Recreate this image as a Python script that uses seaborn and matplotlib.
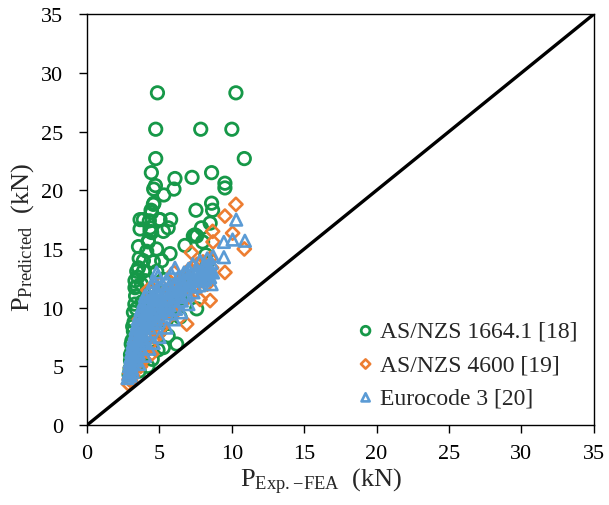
import pandas as pd
import seaborn as sns
import matplotlib
matplotlib.use("Agg")
import matplotlib.pyplot as plt

# AS/NZS 1664.1 [18]
green_x = [4.86, 10.28, 4.74, 7.85, 10.0, 4.74, 10.86, 4.44, 6.07, 7.25, 8.6, 9.52, 9.52, 4.72,
           4.6, 6.0, 5.3, 4.62, 4.42, 7.52, 8.6, 8.67, 3.66, 4.3, 4.99, 5.77, 4.35, 5.6, 7.9, 8.5,
           4.46, 7.45, 7.34, 7.98, 6.76, 4.23, 4.58, 4.46, 3.89, 5.04, 3.66, 4.35, 5.27, 4.23, 4.12,
           3.89, 4.58, 3.43, 3.89, 4.81, 5.15, 3.31, 4.0, 3.31, 2.97, 3.0, 3.1, 3.1, 3.2, 3.25, 3.2,
           3.3, 3.35, 3.45, 3.5, 3.55, 3.6, 3.75, 3.8, 3.9, 6.19, 5.27, 6.42, 7.57, 6.19, 5.27, 5.73,
           4.8, 7.57, 5.0, 5.6, 5.8, 7.0, 6.6, 4.9, 4.5, 4.2, 3.6, 2.9, 3.0, 3.4, 3.7, 4.1, 4.4, 3.55,
           3.05, 3.15, 4.7, 5.5, 6.4, 8.2, 8.3]
green_y = [28.3, 28.3, 25.2, 25.2, 25.2, 22.7, 22.7, 21.5, 21.0, 21.1, 21.5, 20.6, 20.2, 20.4,
           20.1, 20.1, 19.6, 18.9, 18.3, 18.3, 18.9, 18.3, 17.5, 17.4, 17.5, 17.5, 16.8, 16.8, 16.8,
           17.2, 16.4, 16.2, 16.1, 15.6, 15.3, 15.6, 18.8, 18.1, 17.5, 17.5, 16.7, 16.5, 16.5, 15.7,
           14.8, 14.0, 13.9, 13.1, 13.1, 13.1, 14.0, 12.3, 12.3, 11.7, 4.8, 5.5, 6.3, 7.2, 8.0, 8.8,
           9.6, 10.3, 11.0, 11.8, 12.6, 13.4, 14.2, 12.0, 10.5, 9.2, 6.9, 6.6, 9.2, 9.9, 11.0, 12.4,
           14.6, 15.0, 16.1, 8.0, 7.6, 10.0, 12.5, 11.8, 6.4, 5.6, 5.0, 4.6, 4.3, 6.0, 9.9, 8.6, 7.4,
           10.8, 15.2, 6.9, 8.4, 11.4, 9.0, 10.8, 14.5, 13.8]

# AS/NZS 4600 [19]
orange_x = [2.85, 2.9, 2.95, 3.0, 3.0, 3.1, 3.15, 3.2, 3.25, 3.3, 3.35, 3.4, 3.5, 3.5, 3.6, 3.65,
            3.7, 3.75, 3.8, 3.9, 3.95, 4.0, 4.05, 4.1, 4.2, 4.25, 4.3, 4.4, 4.46, 4.5, 4.6, 4.7,
            4.8, 4.9, 5.0, 5.15, 5.2, 5.3, 5.4, 5.5, 5.6, 5.7, 5.9, 6.0, 6.1, 6.3, 6.4, 6.6, 6.8,
            6.88, 7.0, 7.1, 7.2, 7.3, 7.5, 7.6, 7.8, 7.9, 8.0, 8.2, 8.3, 8.5, 8.5, 8.6, 8.7, 8.67,
            9.52, 9.52, 10.05, 10.28, 10.86, 4.2, 5.0, 3.6, 6.0]
orange_y = [3.5, 3.9, 4.4, 4.9, 3.8, 5.3, 4.2, 5.8, 4.7, 6.2, 5.1, 6.7, 5.6, 7.2, 6.1, 7.7,
            5.0, 6.6, 8.2, 7.0, 5.6, 8.6, 7.5, 6.3, 9.1, 7.9, 6.8, 9.5, 6.05, 8.4, 10.0, 7.4,
            8.9, 10.4, 7.8, 8.3, 9.4, 10.9, 8.9, 11.3, 9.8, 10.4, 11.8, 9.5, 10.9, 12.2, 10.3, 11.4,
            12.6, 8.6, 10.9, 13.3, 14.7, 11.7, 12.9, 13.7, 10.7, 12.3, 13.9, 13.1, 12.0, 10.6, 14.2,
            13.4, 15.6, 16.5, 13.0, 17.8, 16.35, 18.8, 15.0, 11.5, 12.0, 9.0, 13.0]

# Eurocode 3 [20]
blue_x = [2.8, 2.85, 2.9, 2.9, 2.95, 3.0, 3.0, 3.05, 3.1, 3.1, 3.15, 3.2, 3.2, 3.25, 3.3, 3.3,
          3.35, 3.4, 3.4, 3.45, 3.5, 3.5, 3.55, 3.6, 3.6, 3.65, 3.7, 3.7, 3.75, 3.8, 3.8, 3.85,
          3.9, 3.9, 3.95, 4.0, 4.0, 4.05, 4.1, 4.15, 4.2, 4.2, 4.3, 4.3, 4.4, 4.4, 4.5, 4.5, 4.6,
          4.6, 4.7, 4.8, 4.8, 4.9, 5.0, 5.0, 5.1, 5.2, 5.2, 5.3, 5.4, 5.5, 5.5, 5.6, 5.7, 5.8,
          5.9, 6.0, 6.07, 6.1, 6.2, 6.3, 6.4, 6.5, 6.6, 6.7, 6.8, 6.9, 7.0, 7.1, 7.2, 7.3, 7.4,
          7.5, 7.6, 7.7, 7.8, 7.9, 8.0, 8.1, 8.2, 8.3, 8.4, 8.5, 8.6, 8.6, 8.7, 8.7, 4.8, 9.45,
          9.45, 10.05, 10.9, 10.3, 3.6, 4.0, 4.3, 4.6, 5.0, 5.5, 6.0, 6.5, 7.0,
          3.05, 3.25, 3.45, 3.65, 3.85, 4.05, 4.25, 4.45, 4.65, 4.85, 5.05, 5.25, 5.45, 5.65,
          5.85, 6.05, 6.25, 6.45, 6.65, 6.85, 7.05, 7.25, 7.45, 7.65, 7.85, 8.05, 8.25, 8.45,
          3.15, 3.35, 3.55, 3.75, 3.95, 4.15, 4.35, 4.55, 4.75, 4.95, 5.15, 5.35, 5.75, 6.15,
          6.55, 6.95, 7.35, 7.75, 8.15, 8.55]
blue_y = [4.0, 4.3, 4.6, 5.0, 5.4, 4.2, 5.8, 6.2, 4.8, 6.6, 7.0, 5.2, 7.4, 5.9, 7.8, 6.4,
          8.2, 5.5, 6.9, 8.6, 7.3, 9.0, 6.1, 7.8, 9.4, 8.3, 6.6, 9.8, 8.8, 7.2, 10.1, 9.2,
          7.7, 10.5, 8.4, 9.6, 11.0, 7.9, 10.2, 8.9, 11.3, 9.5, 10.6, 8.3, 11.8, 9.9, 10.9, 8.8,
          12.2, 9.4, 10.3, 11.5, 9.0, 12.7, 10.0, 11.1, 9.6, 12.0, 10.6, 11.4, 9.9, 12.4, 10.8,
          11.7, 10.2, 12.9, 11.2, 10.6, 13.4, 12.1, 11.0, 12.6, 11.5, 10.9, 12.2, 13.0, 11.6,
          12.5, 13.3, 12.0, 12.9, 13.7, 12.4, 11.8, 13.2, 12.7, 14.0, 13.0, 12.3, 13.6, 12.8,
          14.2, 13.2, 12.6, 12.0, 13.8, 14.4, 13.0, 13.0, 14.3, 15.6, 15.8, 15.7, 17.5, 5.2,
          5.9, 6.5, 7.0, 7.5, 8.3, 9.0, 9.6, 10.3,
          5.1, 5.6, 6.0, 6.9, 7.4, 8.6, 9.0, 9.7, 10.0, 10.4, 10.7, 10.1, 11.3, 10.9,
          11.6, 11.8, 11.5, 12.1, 11.9, 12.2, 12.6, 12.3, 12.9, 13.1, 12.5, 12.9, 13.5, 13.4,
          4.5, 6.1, 7.0, 7.6, 9.9, 10.6, 9.2, 11.0, 8.7, 9.3, 10.3, 9.8, 9.5, 9.9,
          10.6, 11.1, 11.3, 11.9, 12.4, 13.1]

line_x = [0, 35]
line_y = [0, 35]

green = pd.DataFrame({"x": green_x, "y": green_y})
orange = pd.DataFrame({"x": orange_x, "y": orange_y})
blue = pd.DataFrame({"x": blue_x, "y": blue_y})

sns.set_theme(style="ticks")
plt.rcParams["font.family"] = ["Liberation Serif", "DejaVu Serif"]
plt.rcParams["mathtext.fontset"] = "custom"
plt.rcParams["mathtext.rm"] = "Liberation Serif"
plt.rcParams["mathtext.it"] = "Liberation Serif:italic"

fig = plt.figure(figsize=(6.09, 5.06), dpi=100)
ax = fig.add_axes([0.143, 0.158, 0.832, 0.812])

c_green = "#169848"
c_orange = "#ed7d31"
c_blue = "#5b9bd5"

sns.scatterplot(data=green, x="x", y="y", marker="o", s=80, facecolors="none",
                edgecolor=c_green, linewidth=2.0, label="AS/NZS 1664.1 [18]", ax=ax)
sns.scatterplot(data=orange, x="x", y="y", marker="D", s=45, facecolors="none",
                edgecolor=c_orange, linewidth=1.9, label="AS/NZS 4600 [19]", ax=ax)
sns.scatterplot(data=blue, x="x", y="y", marker="^", s=70, facecolors="none",
                edgecolor=c_blue, linewidth=1.9, label="Eurocode 3 [20]", ax=ax)
ax.plot(line_x, line_y, color="black", lw=2.4, zorder=1)

ax.set_xlim(0, 35)
ax.set_ylim(0, 35)
ax.set_xticks(range(0, 36, 5))
ax.set_yticks(range(0, 36, 5))
ax.tick_params(direction="out", length=6, width=1, labelsize=16, colors="black")
ax.tick_params(axis="x", pad=8)
ax.tick_params(axis="y", pad=11)
for s in ax.spines.values():
    s.set_color("black")
    s.set_linewidth(1)

ax.set_xlabel(r"P$_{\mathrm{Exp.\!-\!FEA}}$  (kN)", fontsize=19)
ax.set_ylabel(r"P$_{\mathrm{Predicted}}$  (kN)", fontsize=19)
ax.xaxis.set_label_coords(0.462, -0.1)
ax.yaxis.set_label_coords(-0.1, 0.46)

leg = ax.legend(loc="lower right", bbox_to_anchor=(1.0, 0.0), frameon=False, fontsize=17,
                handletextpad=0.1, handlelength=1.0, labelspacing=0.5, borderaxespad=0.3,
                markerscale=0.7)

fig.savefig("out.png", dpi=100)
